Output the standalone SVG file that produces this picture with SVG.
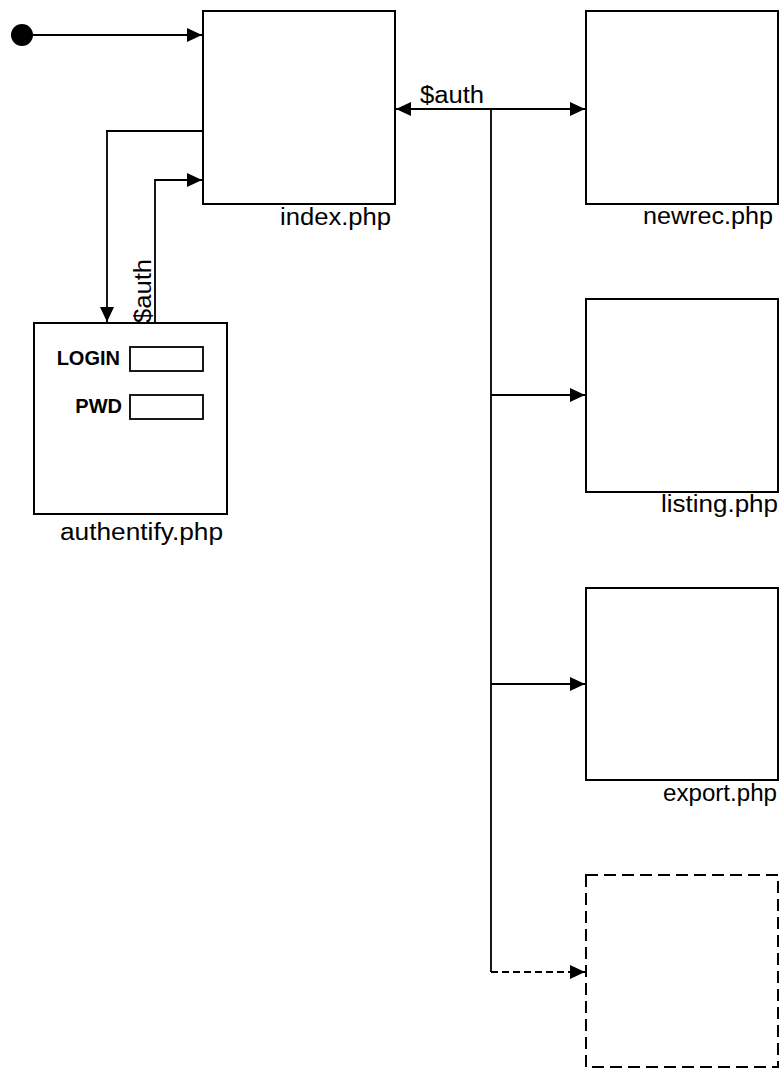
<svg xmlns="http://www.w3.org/2000/svg" width="782" height="1091" viewBox="0 0 782 1091">
<style>
.box{fill:#fff;stroke:#000;stroke-width:2}
.dash{stroke-dasharray:12,6}
.ln{fill:none;stroke:#000;stroke-width:1.8}
.lbl{font-family:"Liberation Sans",Arial,sans-serif;font-size:23px;fill:#000}
.bold{font-family:"Liberation Sans",Arial,sans-serif;font-size:20px;font-weight:bold;fill:#000;text-anchor:end}
</style>
<defs>
<marker id="ah" viewBox="0 0 15 14" refX="15" refY="7" markerWidth="15" markerHeight="14" markerUnits="userSpaceOnUse" orient="auto-start-reverse">
<path d="M0,0 L15,7 L0,14 Z" fill="#000"/>
</marker>
</defs>
<g id="start"><circle cx="22" cy="35" r="11" fill="#000"/></g>
<g id="index">
<rect class="box" x="203" y="11" width="192" height="193"/>
<text class="lbl" x="280" y="225" textLength="111" lengthAdjust="spacingAndGlyphs">index.php</text>
</g>
<g id="newrec">
<rect class="box" x="586" y="11" width="192" height="193"/>
<text class="lbl" x="643" y="224" textLength="130" lengthAdjust="spacingAndGlyphs">newrec.php</text>
</g>
<g id="listing">
<rect class="box" x="586" y="299" width="192" height="193"/>
<text class="lbl" x="661" y="512" textLength="117" lengthAdjust="spacingAndGlyphs">listing.php</text>
</g>
<g id="export">
<rect class="box" x="586" y="588" width="192" height="192"/>
<text class="lbl" x="663" y="801" textLength="114" lengthAdjust="spacingAndGlyphs">export.php</text>
</g>
<g id="future">
<rect class="box dash" x="586" y="875" width="192" height="192"/>
</g>
<g id="authentify">
<rect class="box" x="34" y="323" width="193" height="191"/>
<text class="bold" x="120" y="365">LOGIN</text>
<rect x="130" y="347" width="73" height="24" fill="#fff" stroke="#000" stroke-width="1.8"/>
<text class="bold" x="122" y="413">PWD</text>
<rect x="130" y="395" width="73" height="24" fill="#fff" stroke="#000" stroke-width="1.8"/>
<text class="lbl" x="60" y="540" textLength="163" lengthAdjust="spacingAndGlyphs">authentify.php</text>
</g>
<g id="connectors">
<path class="ln" d="M33,35 H202" marker-end="url(#ah)"/>
<path class="ln" d="M396,109 H585" marker-start="url(#ah)" marker-end="url(#ah)"/>
<text class="lbl" x="420" y="103" textLength="64" lengthAdjust="spacingAndGlyphs">$auth</text>
<path class="ln" d="M491,109 V684"/>
<path class="ln" d="M491,395 H585" marker-end="url(#ah)"/>
<path class="ln" d="M491,684 H585" marker-end="url(#ah)"/>
<path class="ln" d="M491,684 V972"/>
<path class="ln" d="M491,972 H585" stroke-dasharray="7,4" marker-end="url(#ah)"/>
<path class="ln" d="M203,131 H107 V322" marker-end="url(#ah)"/>
<path class="ln" d="M155,323 V180 H202" marker-end="url(#ah)"/>
<text class="lbl" transform="translate(151,323) rotate(-90)" x="0" y="0" textLength="64" lengthAdjust="spacingAndGlyphs">$auth</text>
</g>
</svg>
